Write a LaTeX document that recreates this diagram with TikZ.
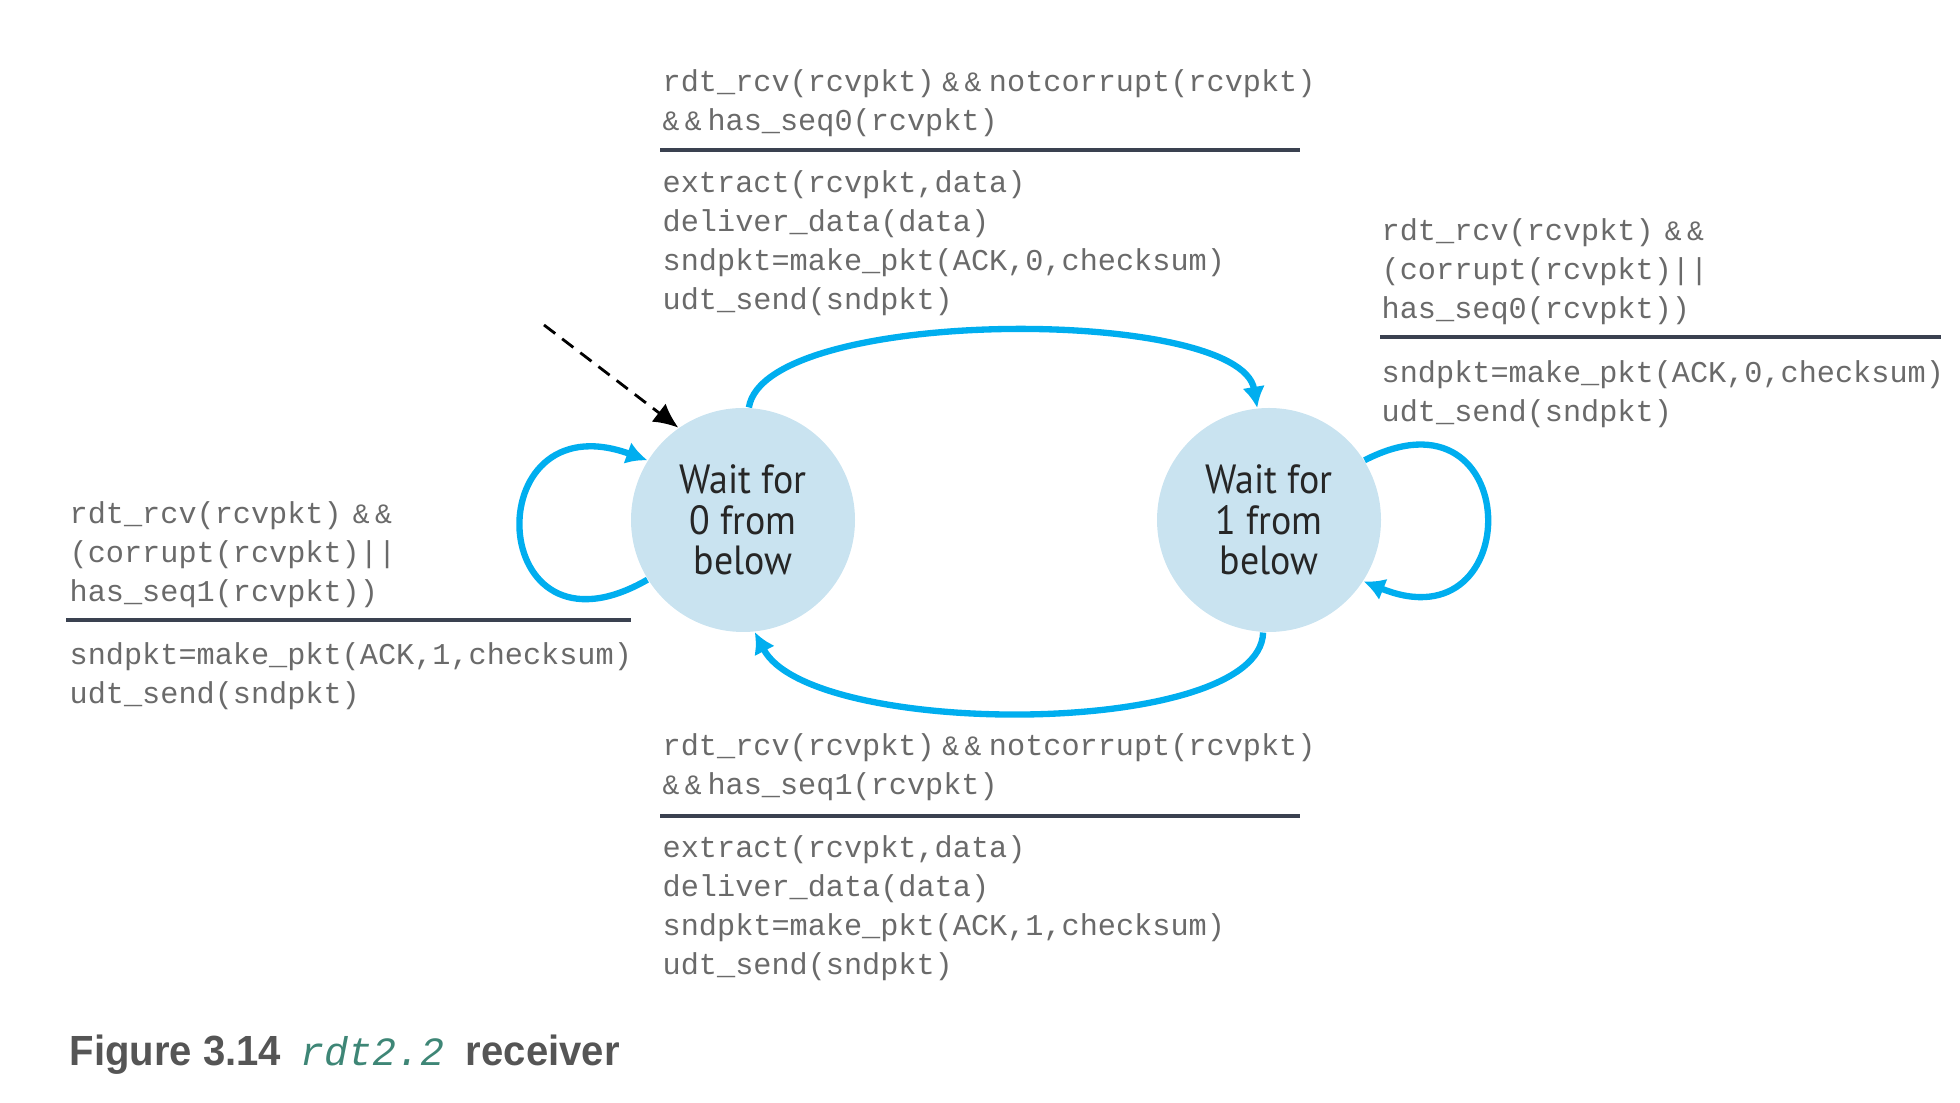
\documentclass[tikz,border=0pt]{standalone}
\usepackage{fontspec}
\setmonofont{Liberation Mono}
\newfontfamily\statefont[FakeStretch=0.93]{PT Sans}
\newfontfamily\capfont[FakeStretch=0.95]{Liberation Sans}
\usetikzlibrary{arrows.meta}
\definecolor{fsmblue}{HTML}{00AEEF}
\definecolor{statefill}{HTML}{C9E3F0}
\definecolor{codegray}{HTML}{6A6A6A}
\definecolor{rulegray}{HTML}{3A4150}
\definecolor{capgray}{HTML}{555555}
\definecolor{capteal}{RGB}{62,134,118}
\newcommand\amps{{\fontsize{8}{9}\selectfont\&\kern1.5pt\&}}
\begin{document}
\begin{tikzpicture}[
    state/.style={circle, fill=statefill, minimum size=2.24cm, inner sep=0pt, align=center,
      font=\statefont\fontsize{11.6}{11.6}\selectfont, text=black!85},
    trans/.style={draw=fsmblue, line width=1.8pt, -{Latex[length=6pt,width=6.5pt]}},
    code/.style={anchor=west, inner sep=0pt, text=codegray, font=\ttfamily\fontsize{8.6}{10}\selectfont,
      text height=1.6ex, text depth=0.45ex},
    sep/.style={draw=rulegray, line width=0.9pt}
  ]
  \useasboundingbox (0,0) rectangle (19.6,11.03);

  % states
  \node[state] (s0) at (7.43,5.83) {Wait for\\0 from\\below};
  \node[state] (s1) at (12.69,5.83) {Wait for\\1 from\\below};

  % transitions
  \coordinate (init) at (5.44,7.78);
  \draw[line width=0.8pt, dash pattern=on 4pt off 2.5pt, -{Latex[length=7pt,width=6.5pt]}] (init) -- (s0.125);
  \draw[trans] (s0.87) .. controls (7.65,7.97) and (12.4,7.97) .. (s1.96);
  \draw[trans] (s1.-93) .. controls (12.6,3.64) and (8.1,3.64) .. (s0.-84);
  \draw[trans] (s0.212) .. controls (4.85,4.3) and (4.75,7.05) .. (s0.148);
  \draw[trans] (s1.32) .. controls (15.25,7.25) and (15.28,4.55) .. (s1.-33);

  % top label (0 -> 1)
  \foreach \txt [count=\i] in {{rdt\_rcv(rcvpkt) \kern-3pt\amps\kern-3pt{} notcorrupt(rcvpkt)},
      {\amps\kern-3.5pt{} has\_seq0(rcvpkt)}}
    \node[code] (topc\i) at (6.62,{10.59-0.39*\i}) {\txt};
  \draw[sep] (6.60,9.53) -- (13.00,9.53);
  \foreach \txt [count=\i] in {{extract(rcvpkt,data)}, {deliver\_data(data)},
      {sndpkt=make\_pkt(ACK,0,checksum)}, {udt\_send(sndpkt)}}
    \node[code] (topa\i) at (6.62,{9.58-0.39*\i}) {\txt};

  % right label (1 -> 1)
  \foreach \txt [count=\i] in {{rdt\_rcv(rcvpkt) \kern-2pt\amps}, {(corrupt(rcvpkt)||}, {has\_seq0(rcvpkt))}}
    \node[code] (rgtc\i) at (13.81,{9.10-0.39*\i}) {\txt};
  \draw[sep] (13.80,7.66) -- (19.41,7.66);
  \foreach \txt [count=\i] in {{sndpkt=make\_pkt(ACK,0,checksum)}, {udt\_send(sndpkt)}}
    \node[code] (rgta\i) at (13.81,{7.68-0.39*\i}) {\txt};

  % left label (0 -> 0)
  \foreach \txt [count=\i] in {{rdt\_rcv(rcvpkt) \kern-2pt\amps}, {(corrupt(rcvpkt)||}, {has\_seq1(rcvpkt))}}
    \node[code] (lftc\i) at (0.69,{6.27-0.39*\i}) {\txt};
  \draw[sep] (0.66,4.83) -- (6.31,4.83);
  \foreach \txt [count=\i] in {{sndpkt=make\_pkt(ACK,1,checksum)}, {udt\_send(sndpkt)}}
    \node[code] (lfta\i) at (0.69,{4.86-0.39*\i}) {\txt};

  % bottom label (1 -> 0)
  \foreach \txt [count=\i] in {{rdt\_rcv(rcvpkt) \kern-3pt\amps\kern-3pt{} notcorrupt(rcvpkt)},
      {\amps\kern-3.5pt{} has\_seq1(rcvpkt)}}
    \node[code] (botc\i) at (6.62,{3.95-0.39*\i}) {\txt};
  \draw[sep] (6.60,2.87) -- (13.00,2.87);
  \foreach \txt [count=\i] in {{extract(rcvpkt,data)}, {deliver\_data(data)},
      {sndpkt=make\_pkt(ACK,1,checksum)}, {udt\_send(sndpkt)}}
    \node[code] (bota\i) at (6.62,{2.93-0.39*\i}) {\txt};

  % caption
  \node[anchor=west, inner sep=0pt, text=capgray, font=\capfont\bfseries\fontsize{12}{14}\selectfont]
    (cap) at (0.69,0.48) {Figure 3.14\hspace{5.5pt}{\color{capteal}\ttfamily\mdseries\itshape\fontsize{11.4}{14}\selectfont rdt2.2}\hspace{6pt}receiver};
\end{tikzpicture}
\end{document}
